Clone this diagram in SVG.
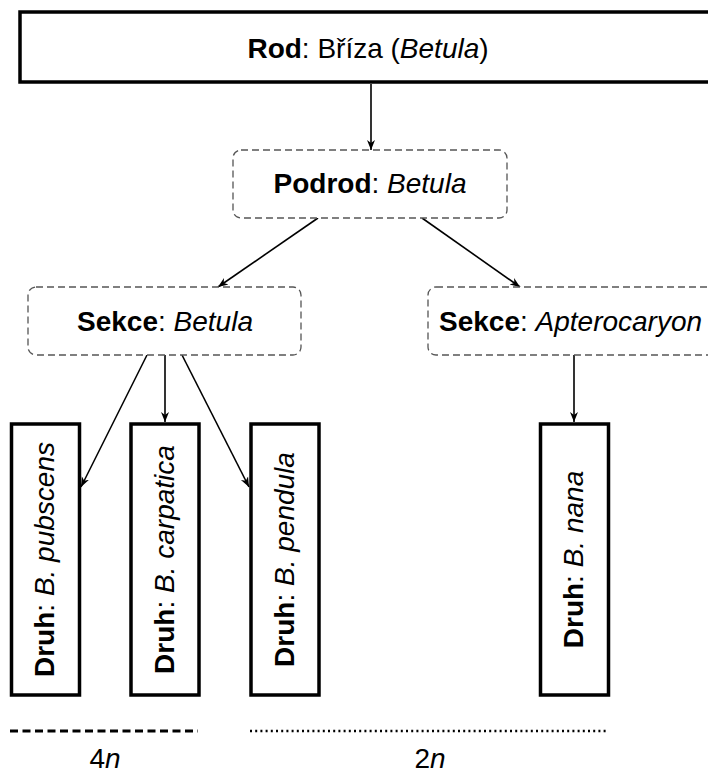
<svg xmlns="http://www.w3.org/2000/svg" width="708" height="776" viewBox="0 0 708 776">
<style>
text{font-family:"Liberation Sans",Arial,sans-serif;font-size:28px;fill:#000}
.b{font-weight:bold}
.i{font-style:italic}
.solid{fill:#fff;stroke:#000;stroke-width:3.5}
.dash{fill:#fff;stroke:#555;stroke-width:1.3;stroke-dasharray:7 4}
.conn{stroke:#000;stroke-width:1.6;fill:none;marker-end:url(#ah)}
</style>
<defs>
<marker id="ah" viewBox="0 0 10 10" refX="10" refY="5" markerWidth="10" markerHeight="10" orient="auto" markerUnits="userSpaceOnUse">
<path d="M0,1 L10,5 L0,9 L3,5 z" fill="#000"/>
</marker>
</defs>
<rect width="708" height="776" fill="#fff"/>
<g id="connectors">
<line class="conn" x1="371" y1="84" x2="371" y2="150"/>
<line class="conn" x1="318" y1="218" x2="218" y2="287"/>
<line class="conn" x1="422" y1="218" x2="520" y2="287"/>
<line class="conn" x1="147" y1="355" x2="81" y2="487"/>
<line class="conn" x1="165" y1="355" x2="165" y2="422"/>
<line class="conn" x1="182" y1="355" x2="249" y2="487"/>
<line class="conn" x1="574" y1="355" x2="574" y2="422"/>
</g>
<g id="rod">
<rect class="solid" x="20" y="12" width="696" height="70"/>
<text x="368" y="58" text-anchor="middle"><tspan class="b">Rod</tspan>: Bříza (<tspan class="i">Betula</tspan>)</text>
</g>
<g id="podrod">
<rect class="dash" x="233" y="150" width="274" height="68" rx="8"/>
<text x="370" y="193" text-anchor="middle"><tspan class="b">Podrod</tspan>: <tspan class="i">Betula</tspan></text>
</g>
<g id="sekce-betula">
<rect class="dash" x="28" y="287" width="273" height="68" rx="8"/>
<text x="165" y="331" text-anchor="middle"><tspan class="b">Sekce</tspan>: <tspan class="i">Betula</tspan></text>
</g>
<g id="sekce-apterocaryon">
<rect class="dash" x="428" y="287" width="292" height="68" rx="8"/>
<text x="439" y="331"><tspan class="b">Sekce</tspan>: <tspan class="i">Apterocaryon</tspan></text>
</g>
<g id="druh-pubscens">
<rect class="solid" x="11.5" y="424" width="68" height="271"/>
<text transform="translate(54,559.5) rotate(-90)" text-anchor="middle"><tspan class="b">Druh</tspan>: <tspan class="i">B. pubscens</tspan></text>
</g>
<g id="druh-carpatica">
<rect class="solid" x="131" y="424" width="68" height="271"/>
<text transform="translate(173.5,559.5) rotate(-90)" text-anchor="middle"><tspan class="b">Druh</tspan>: <tspan class="i">B. carpatica</tspan></text>
</g>
<g id="druh-pendula">
<rect class="solid" x="251" y="424" width="68" height="271"/>
<text transform="translate(293.5,559.5) rotate(-90)" text-anchor="middle"><tspan class="b">Druh</tspan>: <tspan class="i">B. pendula</tspan></text>
</g>
<g id="druh-nana">
<rect class="solid" x="540.5" y="424" width="68" height="271"/>
<text transform="translate(583,559.5) rotate(-90)" text-anchor="middle"><tspan class="b">Druh</tspan>: <tspan class="i">B. nana</tspan></text>
</g>
<g id="ploidy">
<line x1="10" y1="731" x2="198" y2="731" stroke="#000" stroke-width="3" stroke-dasharray="8 4.5"/>
<line x1="250" y1="731" x2="608" y2="731" stroke="#000" stroke-width="2.5" stroke-dasharray="2 3.2"/>
<text x="105" y="768" text-anchor="middle">4<tspan class="i">n</tspan></text>
<text x="430" y="768" text-anchor="middle">2<tspan class="i">n</tspan></text>
</g>
</svg>
